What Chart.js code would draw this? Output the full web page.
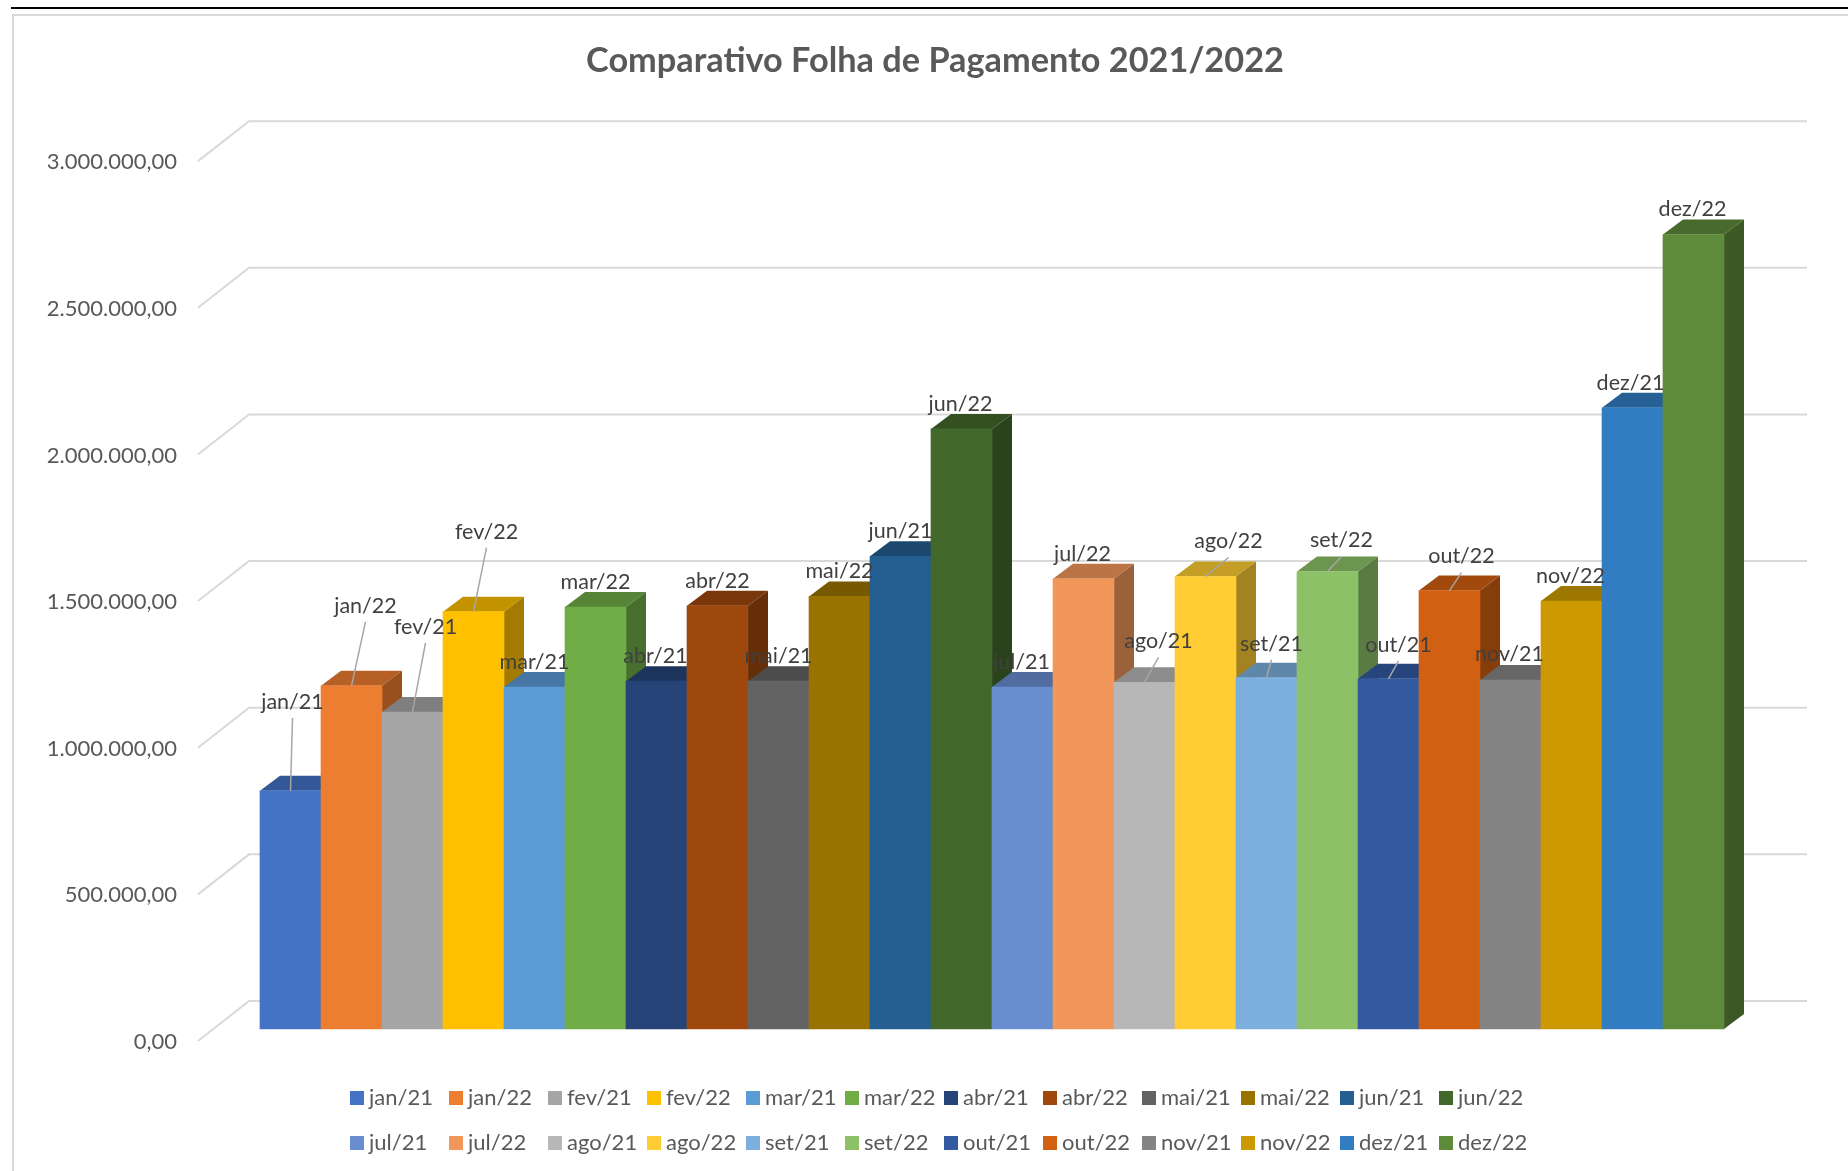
<!DOCTYPE html>
<html>
<head>
<meta charset="utf-8">
<title>Comparativo Folha de Pagamento 2021/2022</title>
<script src="https://cdn.jsdelivr.net/npm/chart.js@4"></script>
<style>
  html, body { margin: 0; padding: 0; background: #fff; }
  #page { position: relative; width: 1848px; height: 1171px; overflow: hidden; }
  #rule { position: absolute; left: 11px; right: 0; top: 7px; height: 2px; background: #000; }
  #frame { position: absolute; left: 12px; top: 14px; right: -5px; bottom: -5px; border: 2px solid #d9d9d9; }
  canvas { position: absolute; left: 0; top: 0; }
</style>
</head>
<body>
<div id="page">
  <div id="rule"></div>
  <div id="frame"></div>
  <canvas id="barchart" width="1848" height="1171"></canvas>
</div>
<script>
// data
const seriesNames = [
  'jan/21', 'jan/22', 'fev/21', 'fev/22', 'mar/21', 'mar/22', 'abr/21', 'abr/22',
  'mai/21', 'mai/22', 'jun/21', 'jun/22', 'jul/21', 'jul/22', 'ago/21', 'ago/22',
  'set/21', 'set/22', 'out/21', 'out/22', 'nov/21', 'nov/22', 'dez/21', 'dez/22'
];
const seriesValues = [
  812000, 1170000, 1081000, 1423000, 1166000, 1439000, 1186000, 1443000,
  1186000, 1475000, 1612000, 2046000, 1166000, 1535000, 1182000, 1543000,
  1198000, 1560000, 1194000, 1495000, 1190000, 1459000, 2118000, 2709000
];
const seriesColors = [
  '#4472c4', '#ed7d31', '#a5a5a5', '#ffc000', '#5b9bd5', '#70ad47', '#264478', '#9e480e',
  '#636363', '#997300', '#255e91', '#43682b', '#698ed0', '#f1975a', '#b7b7b7', '#ffcd33',
  '#7cafdd', '#8cc168', '#335aa1', '#d26012', '#848484', '#cc9a00', '#327dc2', '#5e8b3a'
];
// manual placement of the data labels, px from the middle of the bar top
const labelShiftX = [2, 14, 13, 13, 0, 0, -1, 0, 0, 0, 0, -1, -1, -1, 14, 23, 5, 14, 10, 12, -1, -1, -2, -1];
const labelLift = [89, 80, 85, 80, 25, 25, 25, 25, 25, 25, 25, 25, 25, 25, 41, 35, 34, 31, 34, 34, 26, 25, 25, 25];

const textFont = 'Lato, "Open Sans", sans-serif';

function shade(hex, f) {
  const n = parseInt(hex.slice(1), 16);
  const r = Math.round((n >> 16 & 255) * f);
  const g = Math.round((n >> 8 & 255) * f);
  const b = Math.round((n & 255) * f);
  return 'rgb(' + r + ',' + g + ',' + b + ')';
}

// depth of the bars and of the back wall
const barDepth = { x: 20, y: 15 };

function drawBarDepth(chart, bar, color) {
  const left = bar.x - bar.width / 2, right = bar.x + bar.width / 2;
  const c = chart.ctx;
  c.save();
  c.fillStyle = shade(color, 0.77);
  c.beginPath();
  c.moveTo(left, bar.y);
  c.lineTo(left + barDepth.x, bar.y - barDepth.y);
  c.lineTo(right + barDepth.x, bar.y - barDepth.y);
  c.lineTo(right, bar.y);
  c.closePath();
  c.fill();
  c.fillStyle = shade(color, 0.64);
  c.beginPath();
  c.moveTo(right, bar.y);
  c.lineTo(right + barDepth.x, bar.y - barDepth.y);
  c.lineTo(right + barDepth.x, bar.base - barDepth.y);
  c.lineTo(right, bar.base);
  c.closePath();
  c.fill();
  c.restore();
}

const wallPlugin = {
  id: 'wall',
  // labels reach left of the scale box and would get clipped otherwise
  afterLayout(chart) {
    chart.scales.y.left = 30;
  },
  beforeDatasetsDraw(chart) {
    const c = chart.ctx, y = chart.scales.y;
    c.save();
    c.strokeStyle = '#d9d9d9';
    c.lineWidth = 2;
    y.ticks.forEach(t => {
      const py = y.getPixelForValue(t.value);
      c.beginPath();
      c.moveTo(198, py + 12);
      c.lineTo(249, py - 28);
      c.lineTo(1807, py - 28);
      c.stroke();
    });
    c.restore();
  }
};

// chart.js paints the last dataset first, the 3d look needs left to right
const depthPlugin = {
  id: 'depth',
  beforeDatasetDraw() {
    return false;
  },
  afterDatasetsDraw(chart) {
    seriesNames.forEach((name, i) => {
      const meta = chart.getDatasetMeta(i);
      drawBarDepth(chart, meta.data[0], seriesColors[i]);
      meta.controller.draw();
    });
  }
};

const labelPlugin = {
  id: 'barLabels',
  afterDatasetsDraw(chart) {
    const c = chart.ctx;
    c.save();
    c.font = '21.5px ' + textFont;
    c.textAlign = 'center';
    c.textBaseline = 'middle';
    chart.data.datasets.forEach((ds, i) => {
      const bar = chart.getDatasetMeta(i).data[0];
      const lx = bar.x + labelShiftX[i], ly = bar.y - labelLift[i];
      if (labelLift[i] > 30) {
        c.strokeStyle = '#a6a6a6';
        c.lineWidth = 1.5;
        c.beginPath();
        c.moveTo(bar.x, bar.y);
        c.lineTo(lx, ly + 16);
        c.stroke();
      }
      c.fillStyle = '#404040';
      c.fillText(ds.label, lx, ly);
    });
    c.restore();
  }
};

// excel keeps the legend in even columns, the built in one does not
const legendPlugin = {
  id: 'gridLegend',
  afterDraw(chart) {
    const c = chart.ctx;
    c.save();
    c.font = '22px ' + textFont;
    c.textBaseline = 'middle';
    chart.data.datasets.forEach((ds, i) => {
      const x = 350 + (i % 12) * 99;
      const y = i < 12 ? 1098 : 1143;
      c.fillStyle = ds.backgroundColor;
      c.fillRect(x, y - 7, 14, 14);
      c.fillStyle = '#595959';
      c.fillText(ds.label, x + 19, y);
    });
    c.restore();
  }
};

const ctx = document.getElementById('barchart').getContext('2d');
// stops the "ti" ligature in the title
ctx.letterSpacing = '0.01px';

const datasets = seriesNames.map((name, i) => ({
  label: name,
  data: [seriesValues[i]],
  backgroundColor: seriesColors[i]
}));

const myChart = new Chart(ctx, {
  type: 'bar',
  data: { labels: ['Folha'], datasets: datasets },
  plugins: [wallPlugin, depthPlugin, labelPlugin, legendPlugin],
  options: {
    responsive: false,
    animation: false,
    categoryPercentage: 1,
    barPercentage: 1,
    layout: { padding: { left: 146, right: 124, top: 0, bottom: 142 } },
    plugins: {
      legend: { display: false },
      tooltip: { enabled: false },
      title: {
        display: true,
        text: 'Comparativo Folha de Pagamento 2021/2022',
        color: '#595959',
        font: { family: textFont, size: 34.3, weight: 'bold' },
        padding: { top: 40, bottom: 68 }
      }
    },
    scales: {
      x: { display: false },
      y: {
        min: 0,
        max: 3000000,
        afterFit(scale) { scale.width = 114; },
        grid: { display: false },
        border: { display: false },
        ticks: {
          stepSize: 500000,
          padding: 75,
          labelOffset: 13,
          color: '#595959',
          font: { family: textFont, size: 22 },
          callback: function(value) {
            return value.toLocaleString('pt-BR', { minimumFractionDigits: 2, maximumFractionDigits: 2 });
          }
        }
      }
    }
  }
});
</script>
</body>
</html>
